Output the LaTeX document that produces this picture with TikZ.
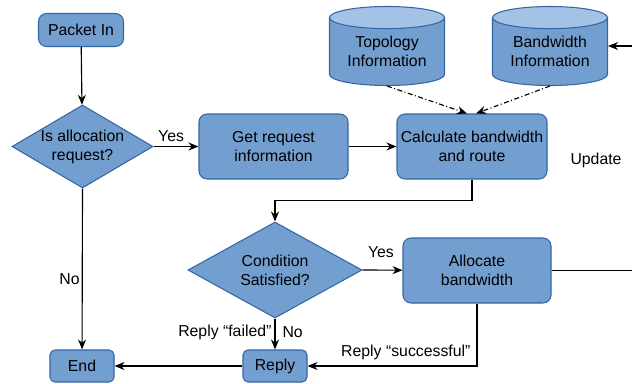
\documentclass[tikz,border=0pt]{standalone}
\usepackage{fontspec}
\setmainfont{Liberation Sans}
\usetikzlibrary{shapes.geometric,arrows.meta}
\definecolor{boxfill}{HTML}{729FCF}
\definecolor{boxline}{HTML}{3465A4}
\definecolor{toplight}{HTML}{A4C2E6}

\begin{document}
\begin{tikzpicture}[x=0.2mm,y=-0.2mm,
  every node/.style={font=\fontsize{9}{10.8}\selectfont, align=center, inner sep=0pt},
  box/.style={draw=boxline, fill=boxfill, line width=0.6pt, rounded corners=1.6mm},
  smallbox/.style={box, rounded corners=1mm, minimum width=12.8mm, minimum height=6.4mm},
  decision/.style={diamond, draw=boxline, fill=boxfill, line width=0.6pt, aspect=1.7, inner xsep=-2mm, inner ysep=-1mm},
  store/.style={cylinder, shape border rotate=90, aspect=0.28, draw=boxline, line width=0.6pt,
    cylinder uses custom fill, cylinder body fill=boxfill, cylinder end fill=toplight,
    minimum width=23mm, minimum height=15.8mm, anchor=shape center},
  flow/.style={-{Stealth[length=2mm,width=1.6mm]}, line width=0.65pt},
  info/.style={flow, dash pattern=on 1mm off 0.5mm on 0.2mm off 0.5mm}]
\useasboundingbox (0,0) rectangle (632,383);

% left column
\node [box, minimum width=17mm, minimum height=6.6mm] (pktin) at (81,30) {Packet In};
\node [decision, minimum width=28.2mm, minimum height=16.6mm] (isalloc) at (82.5,146.5) {Is allocation\\request?};
\node [smallbox] (end) at (82,366) {End};

% request handling
\node [box, minimum width=29.8mm, minimum height=13mm] (getreq) at (273.5,146.5) {Get request\\information};
\node [box, minimum width=30mm, minimum height=13mm] (calc) at (472,146.5) {Calculate bandwidth\\and route};
\node [store] (topo) at (387,46) {Topology\\Information};
\node [store] (bw) at (550,46) {Bandwidth\\Information};
\node (update) at (596,160) {Update};

% allocation
\node [decision, minimum width=34.8mm, minimum height=19.2mm] (cond) at (275,270) {Condition\\Satisfied?};
\node [box, minimum width=29.6mm, minimum height=13mm] (alloc) at (477,270.5) {Allocate\\bandwidth};
\node [smallbox] (reply) at (275,366) {Reply};

\coordinate (bwin) at (632,46);
\coordinate (allocout) at (632,270.5);

\draw [flow] (pktin) -- (isalloc);
\draw [flow] (isalloc.east) -- node [pos=0.39, above=0.8mm] {Yes} (getreq);
\draw [flow] (isalloc.south) -- node [pos=0.56, left=0.4mm] {No} (end);
\draw [flow] (getreq) -- (calc);
\draw [info] (topo.bottom) -- ([xshift=-1mm]calc.north);
\draw [info] (bw.bottom) -- ([xshift=0.8mm]calc.north);
\draw [flow] (bwin) -- (bwin -| bw.east);
\draw [flow] (calc.south) -- ++(0,21) -| (cond.north);
\draw [flow] (cond.east) -- node [pos=0.46, above=2.4mm] {Yes} (alloc);
\draw [flow] (cond.south) -- node [pos=0.44, left=0.6mm] {Reply “failed”}
  node [pos=0.44, right=1.4mm] {No} (reply);
\draw [line width=0.65pt] (alloc) -- (allocout);
\draw [flow] (alloc.south) |- node [pos=0.71, above=1.2mm] {Reply “successful”} (reply.east);
\draw [flow] (reply) -- (end);
\end{tikzpicture}
\end{document}
